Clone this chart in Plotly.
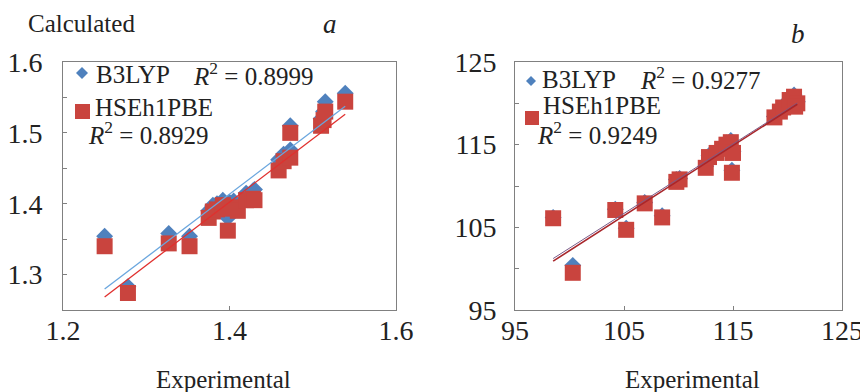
import numpy as np
import plotly.graph_objects as go

# ---------- data: panel a ----------
a_exp   = [1.250, 1.278, 1.327, 1.352, 1.375, 1.380, 1.385, 1.392, 1.398, 1.400, 1.405, 1.410,
           1.420, 1.428, 1.430, 1.459, 1.465, 1.473, 1.473, 1.510, 1.513, 1.515, 1.539]
a_b3lyp = [1.354, 1.283, 1.358, 1.354, 1.390, 1.398, 1.400, 1.405, 1.380, 1.402, 1.404, 1.398,
           1.415, 1.418, 1.420, 1.462, 1.470, 1.476, 1.510, 1.520, 1.530, 1.544, 1.556]
a_hse   = [1.340, 1.274, 1.344, 1.340, 1.380, 1.389, 1.392, 1.398, 1.362, 1.393, 1.395, 1.390,
           1.405, 1.407, 1.405, 1.447, 1.460, 1.465, 1.500, 1.510, 1.518, 1.530, 1.544]
a_r2_b3lyp = "0.8999"
a_r2_hse = "0.8929"

# ---------- data: panel b ----------
b_exp   = [98.5, 100.3, 104.2, 105.2, 106.9, 108.5, 109.8, 110.1, 112.5, 112.8, 113.5, 114.0,
           114.4, 114.8, 114.9, 115.0, 118.8, 119.3, 119.6, 120.2, 120.6, 120.9, 120.7]
b_b3lyp = [106.2, 100.4, 107.2, 104.9, 108.0, 106.4, 110.8, 110.9, 112.4, 113.7, 114.2, 114.6,
           115.2, 115.5, 111.9, 114.2, 118.4, 119.2, 119.7, 120.5, 121.0, 120.2, 119.8]
b_hse   = [106.1, 99.5, 107.1, 104.7, 107.9, 106.2, 110.5, 110.8, 112.2, 113.5, 114.0, 114.5,
           115.0, 115.3, 111.6, 114.0, 118.3, 119.0, 119.5, 120.4, 120.8, 120.0, 119.6]
b_r2_b3lyp = "0.9277"
b_r2_hse = "0.9249"

a_xticks = [1.2, 1.4, 1.6]
a_yticks = [1.3, 1.4, 1.5, 1.6]
b_xticks = [95, 105, 115, 125]
b_yticks = [95, 105, 115, 125]

BLUE = "#4F81BD"
RED = "#C9443E"
BLUE_LINE = "#6AA6DE"
RED_LINE = "#E0302E"
FONT = "Liberation Serif"
OFF = 8              # page body margin
W, H = 868 - OFF, 392 - OFF

def px(x):
    return (x - OFF) / W

def py(y):
    return 1 - (y - OFF) / H

fig = go.Figure()

def add_panel(xs, yb, yh, xa, ya, blue_line, red_line, bw, rw):
    fig.add_trace(go.Scatter(x=xs, y=yb, mode="markers", xaxis=xa, yaxis=ya,
                             marker=dict(symbol="diamond", size=13, color=BLUE), showlegend=False))
    fig.add_trace(go.Scatter(x=xs, y=yh, mode="markers", xaxis=xa, yaxis=ya,
                             marker=dict(symbol="square", size=16, color=RED,
                                         line=dict(width=0)), showlegend=False))
    xl = np.array([min(xs), max(xs)])
    kb = np.polyfit(xs, yb, 1)
    kh = np.polyfit(xs, yh, 1)
    fig.add_trace(go.Scatter(x=xl, y=np.polyval(kb, xl), mode="lines", xaxis=xa, yaxis=ya,
                             line=dict(color=blue_line, width=bw), showlegend=False))
    fig.add_trace(go.Scatter(x=xl, y=np.polyval(kh, xl), mode="lines", xaxis=xa, yaxis=ya,
                             line=dict(color=red_line, width=rw), showlegend=False))

add_panel(a_exp, a_b3lyp, a_hse, "x", "y", BLUE_LINE, RED_LINE, 1.3, 1.3)
add_panel(b_exp, b_b3lyp, b_hse, "x2", "y2", "#7A5C8A", "#A8262B", 1.0, 1.6)

axis_common = dict(showline=True, mirror=True, linecolor="#808080", linewidth=1,
                   showgrid=False, zeroline=False, ticks="inside", ticklen=4, automargin=False,
                   tickcolor="#808080", tickfont=dict(family=FONT, size=28, color="#222"))

fig.update_layout(
    width=W, height=H, margin=dict(l=0, r=0, t=0, b=0, autoexpand=False),
    paper_bgcolor="white", plot_bgcolor="white",
    xaxis=dict(domain=[px(63), px(396)], range=[1.2, 1.6], tickvals=a_xticks,
               ticktext=[f"{v:.1f}" for v in a_xticks], anchor="y", ticklabelstandoff=-5,
               **axis_common),
    yaxis=dict(domain=[py(310), py(62)], range=[1.25, 1.6], tickvals=a_yticks,
               ticktext=[f"{v:.1f}" for v in a_yticks], anchor="x", ticklabelstandoff=14,
               minor=dict(dtick=0.05, tick0=1.25, ticks="inside", ticklen=4, tickcolor="#808080"),
               **axis_common),
    xaxis2=dict(domain=[px(515), px(842)], range=[95, 125], tickvals=b_xticks,
                ticktext=[str(v) for v in b_xticks], anchor="y2", ticklabelstandoff=-5,
                **axis_common),
    yaxis2=dict(domain=[py(310), py(62)], range=[95, 125], tickvals=b_yticks,
                ticktext=[str(v) for v in b_yticks], anchor="x2", ticklabelstandoff=12,
                minor=dict(dtick=5, tick0=95, ticks="inside", ticklen=4, tickcolor="#808080"),
                **axis_common),
)

txt = dict(family=FONT, size=25, color="#222")
ann = []
def note(x, y, text, xanchor="left", size=25, italic=False):
    f = dict(txt, size=size)
    if italic:
        f["style"] = "italic"
    ann.append(dict(x=px(x), y=py(y), xref="paper", yref="paper", text=text, showarrow=False,
                    xanchor=xanchor, yanchor="middle", font=f))

note(26, 24, "Calculated")
note(321, 24, "a", italic=True, size=27)
note(789, 34, "b", italic=True, size=27)
note(223, 379, "Experimental", xanchor="center")
note(692, 379, "Experimental", xanchor="center")

# legend panel a
note(94, 75, "B3LYP")
note(191, 74, f"<i>R</i><sup>2</sup> = {a_r2_b3lyp}")
note(93, 107, "HSEh1PBE")
note(86, 133, f"<i>R</i><sup>2</sup> = {a_r2_hse}")
# legend panel b
note(540, 79, "B3LYP")
note(638, 78, f"<i>R</i><sup>2</sup> = {b_r2_b3lyp}")
note(541, 106, "HSEh1PBE")
note(535, 133, f"<i>R</i><sup>2</sup> = {b_r2_hse}")
fig.update_layout(annotations=ann)

def diamond(cx, cy, r):
    return (f"M {px(cx)} {py(cy - r)} L {px(cx + r)} {py(cy)} L {px(cx)} {py(cy + r)} "
            f"L {px(cx - r)} {py(cy)} Z")

shapes = [
    dict(type="path", xref="paper", yref="paper", path=diamond(82, 73, 6),
         fillcolor=BLUE, line=dict(width=0)),
    dict(type="rect", xref="paper", yref="paper", x0=px(75), x1=px(90), y0=py(119), y1=py(104),
         fillcolor=RED, line=dict(width=0)),
    dict(type="path", xref="paper", yref="paper", path=diamond(531, 81, 5),
         fillcolor=BLUE, line=dict(width=0)),
    dict(type="rect", xref="paper", yref="paper", x0=px(525), x1=px(539), y0=py(125), y1=py(111),
         fillcolor=RED, line=dict(width=0)),
]
fig.update_layout(shapes=shapes)

fig.write_html("out.html")
